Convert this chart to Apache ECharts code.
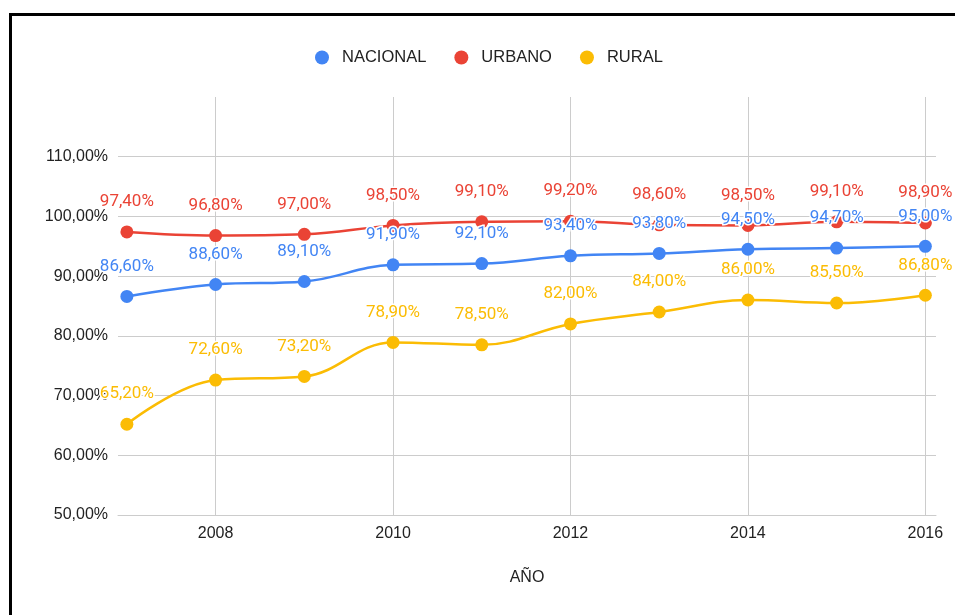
<!DOCTYPE html>
<html>
<head>
<meta charset="utf-8">
<script src="https://cdn.jsdelivr.net/npm/echarts@6/dist/echarts.min.js"></script>
<style>
html,body{margin:0;padding:0;background:#fff;width:955px;height:615px;overflow:hidden;}
#frame{position:absolute;left:9px;top:13px;width:1000px;height:700px;border-left:3px solid #000;border-top:3px solid #000;box-sizing:border-box;}
#chart{position:absolute;left:0;top:0;width:955px;height:615px;}
</style>
</head>
<body>
<div id="frame"></div>
<div id="chart"></div>
<script>
const years = [2007, 2008, 2009, 2010, 2011, 2012, 2013, 2014, 2015, 2016];
const seriesNames = ['NACIONAL', 'URBANO', 'RURAL'];
const nacional = [86.6, 88.6, 89.1, 91.9, 92.1, 93.4, 93.8, 94.5, 94.7, 95.0];
const urbano = [97.4, 96.8, 97.0, 98.5, 99.1, 99.2, 98.6, 98.5, 99.1, 98.9];
const rural = [65.2, 72.6, 73.2, 78.9, 78.5, 82.0, 84.0, 86.0, 85.5, 86.8];
const colors = ['#4285F4', '#EA4335', '#FBBC04'];

function pct(v) { return v.toFixed(2).replace('.', ',') + '%'; }

const chart = echarts.init(document.getElementById('chart'));
const values = [nacional, urbano, rural];
const order = [1, 0, 2];
chart.setOption({
  animation: false,
  backgroundColor: 'transparent',
  color: colors,
  legend: {
    data: seriesNames,
    top: 44,
    left: 310,
    icon: 'circle',
    itemWidth: 30,
    itemHeight: 14,
    itemGap: 28,
    textStyle: { fontFamily: 'Arial, Liberation Sans', fontSize: 16.5, color: '#222' }
  },
  grid: { left: 118, right: 19, top: 97, bottom: 100 },
  xAxis: {
    type: 'value',
    min: 2006.9,
    max: 2016.12,
    name: 'AÑO',
    nameLocation: 'middle',
    nameGap: 55,
    nameTextStyle: { fontFamily: 'Arial, Liberation Sans', fontSize: 16, color: '#222' },
    axisLine: { show: true, lineStyle: { color: '#ccc', width: 1 } },
    axisTick: { show: false },
    axisLabel: {
      showMinLabel: false, showMaxLabel: false, margin: 11,
      fontFamily: 'Arial, Liberation Sans', fontSize: 16, color: '#222',
      formatter: function (v) { return String(Math.round(v)); }
    },
    splitLine: { show: true, showMinLine: false, showMaxLine: false, lineStyle: { color: '#ccc', width: 1 } }
  },
  yAxis: {
    type: 'value',
    min: 50,
    max: 120,
    interval: 10,
    axisLine: { show: false },
    axisTick: { show: false },
    axisLabel: {
      showMaxLabel: false, margin: 10,
      fontFamily: 'Arial, Liberation Sans', fontSize: 16, color: '#222',
      formatter: function (v) { return pct(v); }
    },
    splitLine: { show: true, showMaxLine: false, lineStyle: { color: '#ccc', width: 1 } }
  },
  series: order.map(function (i) {
    return {
      name: seriesNames[i],
      type: 'line',
      smooth: 0.4,
      data: years.map(function (y, k) { return [y, values[i][k]]; }),
      symbol: 'circle',
      symbolSize: 13,
      lineStyle: { width: 2.5, color: colors[i] },
      itemStyle: { color: colors[i] },
      label: {
        show: true,
        position: 'top',
        distance: 15,
        color: colors[i],
        fontFamily: 'Roboto',
        fontSize: 17,
        textBorderColor: '#fff',
        textBorderWidth: 3,
        formatter: function (p) { return pct(p.value[1]); }
      },
      labelLayout: { hideOverlap: false },
      z: i === 1 ? 2 : 3
    };
  })
});
</script>
</body>
</html>
